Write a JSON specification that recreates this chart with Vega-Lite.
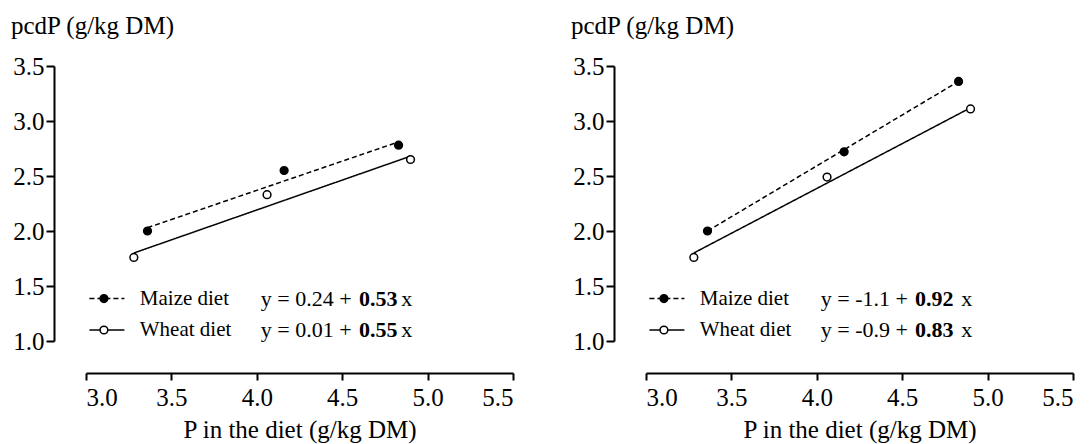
{
  "$schema": "https://vega.github.io/schema/vega-lite/v6.json",
  "padding": {"left": 10, "top": 13, "right": 2, "bottom": 2},
  "background": "white",
  "spacing": 133,
  "bounds": "flush",
  "datasets": {
    "lines": [
      {"panel": "A", "line": "fitM", "diet": "Maize", "x": 3.36, "y": 2.03},
      {"panel": "A", "line": "fitM", "diet": "Maize", "x": 4.83, "y": 2.81},
      {"panel": "A", "line": "fitW", "diet": "Wheat", "x": 3.28, "y": 1.80},
      {"panel": "A", "line": "fitW", "diet": "Wheat", "x": 4.90, "y": 2.68},
      {"panel": "A", "line": "keyM", "diet": "Maize", "x": 3.02, "y": 1.386},
      {"panel": "A", "line": "keyM", "diet": "Maize", "x": 3.225, "y": 1.386},
      {"panel": "A", "line": "keyW", "diet": "Wheat", "x": 3.02, "y": 1.10},
      {"panel": "A", "line": "keyW", "diet": "Wheat", "x": 3.225, "y": 1.10},
      {"panel": "B", "line": "fitM", "diet": "Maize", "x": 3.36, "y": 2.00},
      {"panel": "B", "line": "fitM", "diet": "Maize", "x": 4.83, "y": 3.36},
      {"panel": "B", "line": "fitW", "diet": "Wheat", "x": 3.28, "y": 1.80},
      {"panel": "B", "line": "fitW", "diet": "Wheat", "x": 4.90, "y": 3.12},
      {"panel": "B", "line": "keyM", "diet": "Maize", "x": 3.02, "y": 1.386},
      {"panel": "B", "line": "keyM", "diet": "Maize", "x": 3.225, "y": 1.386},
      {"panel": "B", "line": "keyW", "diet": "Wheat", "x": 3.02, "y": 1.10},
      {"panel": "B", "line": "keyW", "diet": "Wheat", "x": 3.225, "y": 1.10}
    ],
    "points": [
      {"panel": "A", "diet": "Maize", "x": 3.36, "y": 2.00},
      {"panel": "A", "diet": "Maize", "x": 4.16, "y": 2.55},
      {"panel": "A", "diet": "Maize", "x": 4.83, "y": 2.78},
      {"panel": "A", "diet": "Maize", "x": 3.105, "y": 1.386},
      {"panel": "A", "diet": "Wheat", "x": 3.28, "y": 1.76},
      {"panel": "A", "diet": "Wheat", "x": 4.06, "y": 2.33},
      {"panel": "A", "diet": "Wheat", "x": 4.90, "y": 2.65},
      {"panel": "A", "diet": "Wheat", "x": 3.105, "y": 1.10},
      {"panel": "B", "diet": "Maize", "x": 3.36, "y": 2.00},
      {"panel": "B", "diet": "Maize", "x": 4.16, "y": 2.72},
      {"panel": "B", "diet": "Maize", "x": 4.83, "y": 3.36},
      {"panel": "B", "diet": "Maize", "x": 3.105, "y": 1.386},
      {"panel": "B", "diet": "Wheat", "x": 3.28, "y": 1.76},
      {"panel": "B", "diet": "Wheat", "x": 4.06, "y": 2.49},
      {"panel": "B", "diet": "Wheat", "x": 4.90, "y": 3.11},
      {"panel": "B", "diet": "Wheat", "x": 3.105, "y": 1.10}
    ],
    "texts": [
      {"panel": "A", "kind": "label", "x": 3.315, "y": 1.386, "t": "Maize diet"},
      {"panel": "A", "kind": "label", "x": 3.315, "y": 1.10, "t": "Wheat diet"},
      {"panel": "A", "kind": "eq", "x": 4.023, "y": 1.386, "t": "y = 0.24 +"},
      {"panel": "A", "kind": "bold", "x": 4.598, "y": 1.386, "t": "0.53"},
      {"panel": "A", "kind": "eq", "x": 4.845, "y": 1.386, "t": "x"},
      {"panel": "A", "kind": "eq", "x": 4.023, "y": 1.10, "t": "y = 0.01 +"},
      {"panel": "A", "kind": "bold", "x": 4.598, "y": 1.10, "t": "0.55"},
      {"panel": "A", "kind": "eq", "x": 4.845, "y": 1.10, "t": "x"},
      {"panel": "B", "kind": "label", "x": 3.315, "y": 1.386, "t": "Maize diet"},
      {"panel": "B", "kind": "label", "x": 3.315, "y": 1.10, "t": "Wheat diet"},
      {"panel": "B", "kind": "eq", "x": 4.023, "y": 1.386, "t": "y = -1.1 +"},
      {"panel": "B", "kind": "bold", "x": 4.575, "y": 1.386, "t": "0.92"},
      {"panel": "B", "kind": "eq", "x": 4.845, "y": 1.386, "t": "x"},
      {"panel": "B", "kind": "eq", "x": 4.023, "y": 1.10, "t": "y = -0.9 +"},
      {"panel": "B", "kind": "bold", "x": 4.575, "y": 1.10, "t": "0.83"},
      {"panel": "B", "kind": "eq", "x": 4.845, "y": 1.10, "t": "x"}
    ]
  },
  "hconcat": [
    {
      "width": 427,
      "height": 275,
      "encoding": {
        "x": {"field": "x", "type": "quantitative", "scale": {"domain": [3, 5.5], "nice": false, "zero": false},
              "axis": {"title": "P in the diet (g/kg DM)", "values": [3, 3.5, 4, 4.5, 5, 5.5], "format": ".1f"}},
        "y": {"field": "y", "type": "quantitative", "scale": {"domain": [1, 3.5], "nice": false, "zero": false},
              "axis": {"title": "pcdP (g/kg DM)", "values": [1, 1.5, 2, 2.5, 3, 3.5], "format": ".1f"}}
      },
      "layer": [
        {
          "data": {"name": "lines"},
          "transform": [{"filter": "datum.panel === 'A'"}],
          "mark": {"type": "line", "color": "black", "strokeWidth": 1.5},
          "encoding": {
            "detail": {"field": "line"},
            "strokeDash": {"field": "diet", "type": "nominal", "scale": {"domain": ["Maize", "Wheat"], "range": [[5, 3], [1, 0]]}, "legend": null}
          }
        },
        {
          "data": {"name": "points"},
          "transform": [{"filter": "datum.panel === 'A'"}],
          "mark": {"type": "point", "shape": "circle", "filled": false, "stroke": "black", "strokeWidth": 1.5, "size": 60, "opacity": 1},
          "encoding": {
            "fill": {"field": "diet", "type": "nominal", "scale": {"domain": ["Maize", "Wheat"], "range": ["black", "white"]}, "legend": null}
          }
        },
        {
          "data": {"name": "texts"},
          "transform": [{"filter": "datum.panel === 'A' && datum.kind === 'label'"}],
          "mark": {"type": "text", "align": "left", "baseline": "middle", "fontSize": 21, "color": "black"},
          "encoding": {"text": {"field": "t"}}
        },
        {
          "data": {"name": "texts"},
          "transform": [{"filter": "datum.panel === 'A' && datum.kind === 'eq'"}],
          "mark": {"type": "text", "align": "left", "baseline": "middle", "fontSize": 22, "color": "black"},
          "encoding": {"text": {"field": "t"}}
        },
        {
          "data": {"name": "texts"},
          "transform": [{"filter": "datum.panel === 'A' && datum.kind === 'bold'"}],
          "mark": {"type": "text", "align": "left", "baseline": "middle", "fontSize": 22, "fontWeight": "bold", "color": "black"},
          "encoding": {"text": {"field": "t"}}
        }
      ]
    },
    {
      "width": 427,
      "height": 275,
      "encoding": {
        "x": {"field": "x", "type": "quantitative", "scale": {"domain": [3, 5.5], "nice": false, "zero": false},
              "axis": {"title": "P in the diet (g/kg DM)", "values": [3, 3.5, 4, 4.5, 5, 5.5], "format": ".1f"}},
        "y": {"field": "y", "type": "quantitative", "scale": {"domain": [1, 3.5], "nice": false, "zero": false},
              "axis": {"title": "pcdP (g/kg DM)", "values": [1, 1.5, 2, 2.5, 3, 3.5], "format": ".1f"}}
      },
      "layer": [
        {
          "data": {"name": "lines"},
          "transform": [{"filter": "datum.panel === 'B'"}],
          "mark": {"type": "line", "color": "black", "strokeWidth": 1.5},
          "encoding": {
            "detail": {"field": "line"},
            "strokeDash": {"field": "diet", "type": "nominal", "scale": {"domain": ["Maize", "Wheat"], "range": [[5, 3], [1, 0]]}, "legend": null}
          }
        },
        {
          "data": {"name": "points"},
          "transform": [{"filter": "datum.panel === 'B'"}],
          "mark": {"type": "point", "shape": "circle", "filled": false, "stroke": "black", "strokeWidth": 1.5, "size": 60, "opacity": 1},
          "encoding": {
            "fill": {"field": "diet", "type": "nominal", "scale": {"domain": ["Maize", "Wheat"], "range": ["black", "white"]}, "legend": null}
          }
        },
        {
          "data": {"name": "texts"},
          "transform": [{"filter": "datum.panel === 'B' && datum.kind === 'label'"}],
          "mark": {"type": "text", "align": "left", "baseline": "middle", "fontSize": 21, "color": "black"},
          "encoding": {"text": {"field": "t"}}
        },
        {
          "data": {"name": "texts"},
          "transform": [{"filter": "datum.panel === 'B' && datum.kind === 'eq'"}],
          "mark": {"type": "text", "align": "left", "baseline": "middle", "fontSize": 22, "color": "black"},
          "encoding": {"text": {"field": "t"}}
        },
        {
          "data": {"name": "texts"},
          "transform": [{"filter": "datum.panel === 'B' && datum.kind === 'bold'"}],
          "mark": {"type": "text", "align": "left", "baseline": "middle", "fontSize": 22, "fontWeight": "bold", "color": "black"},
          "encoding": {"text": {"field": "t"}}
        }
      ]
    }
  ],
  "config": {
    "font": "'Liberation Serif', 'Times New Roman', Times, 'DejaVu Serif', serif",
    "text": {"font": "'Liberation Serif', 'Times New Roman', Times, 'DejaVu Serif', serif"},
    "view": {"stroke": null},
    "axis": {
      "grid": false,
      "domainColor": "black",
      "domainWidth": 2,
      "tickColor": "black",
      "tickWidth": 2,
      "labelFont": "'Liberation Serif', 'Times New Roman', Times, 'DejaVu Serif', serif",
      "labelFontSize": 25,
      "labelColor": "black",
      "titleFont": "'Liberation Serif', 'Times New Roman', Times, 'DejaVu Serif', serif",
      "titleFontSize": 25,
      "titleFontWeight": "normal",
      "titleColor": "black",
      "offset": 32
    },
    "axisX": {
      "tickSize": 7,
      "labelPadding": 5,
      "labelBaseline": "top",
      "titleBaseline": "alphabetic",
      "titleY": 64
    },
    "axisY": {
      "tickSize": 8,
      "labelPadding": 2,
      "titleAngle": 0,
      "titleAlign": "left",
      "titleBaseline": "alphabetic",
      "titleX": -43.5,
      "titleY": -33
    }
  }
}
